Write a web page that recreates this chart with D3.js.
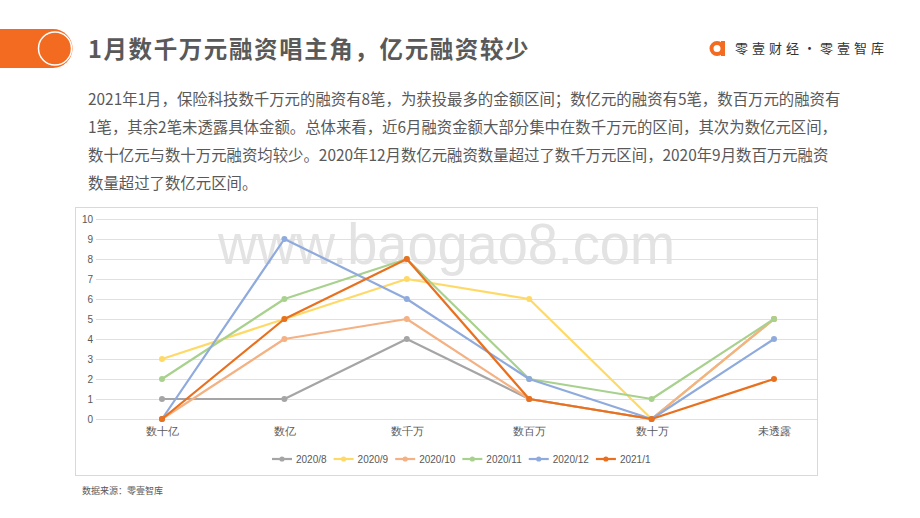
<!DOCTYPE html>
<html><head><meta charset="utf-8">
<script src="https://cdn.jsdelivr.net/npm/d3@7/dist/d3.min.js"></script>
<style>body{margin:0;background:#fff;}svg{display:block;font-family:"Noto Sans CJK SC","Noto Sans",sans-serif;}</style>
</head><body><svg id="c" width="920" height="518"></svg>
<script>
const categories = ["数十亿","数亿","数千万","数百万","数十万","未透露"];
const seriesNames = ["2020/8","2020/9","2020/10","2020/11","2020/12","2021/1"];
const s2020_8  = [1,1,4,1,0,5];
const s2020_9  = [3,5,7,6,0,5];
const s2020_10 = [0,4,5,1,0,5];
const s2020_11 = [2,6,8,2,1,5];
const s2020_12 = [0,9,6,2,0,4];
const s2021_1  = [0,5,8,1,0,2];
const yTicks = [0,1,2,3,4,5,6,7,8,9,10];
const colors = ["#A5A5A5","#FFD966","#F4B183","#A9D18E","#8FAADC","#E8701E"];
const series = [s2020_8,s2020_9,s2020_10,s2020_11,s2020_12,s2021_1];

const svg = d3.select("#c");
// header bar
svg.append("path").attr("d","M0,29 H53 A19.5,19.5 0 0 1 53,68 H0 Z").attr("fill","#F26B21");
svg.append("circle").attr("cx",55).attr("cy",48.5).attr("r",16.5).attr("fill","none").attr("stroke","#fff").attr("stroke-width",1.5);
svg.append("text").attr("x",88).attr("y",57.5).attr("font-size",23.5).attr("font-weight","bold").attr("fill","#595959").attr("letter-spacing",1.6).text("1月数千万元融资唱主角，亿元融资较少");
// logo
svg.append("circle").attr("cx",717).attr("cy",48.5).attr("r",5.5).attr("fill","none").attr("stroke","#F26B21").attr("stroke-width",4);
svg.append("rect").attr("x",721).attr("y",41).attr("width",4).attr("height",15).attr("fill","#F26B21");
svg.append("text").attr("x",735).attr("y",53).attr("font-size",13).attr("fill","#333").attr("letter-spacing",4).text("零壹财经·零壹智库");
// paragraph
const para = ["2021年1月，保险科技数千万元的融资有8笔，为获投最多的金额区间；数亿元的融资有5笔，数百万元的融资有",
"1笔，其余2笔未透露具体金额。总体来看，近6月融资金额大部分集中在数千万元的区间，其次为数亿元区间，",
"数十亿元与数十万元融资均较少。2020年12月数亿元融资数量超过了数千万元区间，2020年9月数百万元融资",
"数量超过了数亿元区间。"];
para.forEach((t,i)=>svg.append("text").attr("x",88).attr("y",105+i*28).attr("font-size",15.4).attr("fill","#595959").text(t));

// chart frame
svg.append("rect").attr("x",75.5).attr("y",207.5).attr("width",742).attr("height",268).attr("fill","#fff").attr("stroke","#d9d9d9");
// watermark
svg.append("text").attr("x",218).attr("y",264).attr("font-size",57).attr("fill","#e3e3e3")
  .attr("textLength",457).attr("lengthAdjust","spacingAndGlyphs")
  .attr("font-family","Liberation Sans, Arial, sans-serif").text("www.baogao8.com");

const x = d3.scalePoint().domain(categories).range([162,774]);
const y = d3.scaleLinear().domain([0,10]).range([419,219]);

const grid = svg.append("g");
yTicks.forEach(t=>{
  grid.append("line").attr("x1",96).attr("x2",817).attr("y1",y(t)+0.5).attr("y2",y(t)+0.5).attr("stroke","#e0e0e0").attr("stroke-width",1);
});
const yAxis = svg.append("g").attr("transform","translate(96,0)").call(d3.axisLeft(y).tickValues(yTicks).tickSize(0).tickPadding(3));
yAxis.select(".domain").remove();
yAxis.selectAll("text").attr("font-size",10).attr("fill","#595959").attr("font-family","Liberation Sans, Arial, sans-serif");
const xAxis = svg.append("g").attr("transform","translate(0,419)").call(d3.axisBottom(x).tickSize(0).tickPadding(8));
xAxis.select(".domain").remove();
xAxis.selectAll("text").attr("font-size",11).attr("fill","#595959");

const line = d3.line().x((d,i)=>x(categories[i])).y(d=>y(d));
series.forEach((s,k)=>{
  const g = svg.append("g");
  g.append("path").attr("d",line(s)).attr("fill","none").attr("stroke",colors[k]).attr("stroke-width",2.2).attr("stroke-linejoin","round");
  g.selectAll("circle").data(s).join("circle").attr("cx",(d,i)=>x(categories[i])).attr("cy",d=>y(d)).attr("r",3).attr("fill",colors[k]);
});

// legend
const lg = svg.append("g");
let lx = 272;
seriesNames.forEach((n,k)=>{
  const g = lg.append("g").attr("transform",`translate(${lx},459)`);
  g.append("line").attr("x1",0).attr("x2",20).attr("y1",0).attr("y2",0).attr("stroke",colors[k]).attr("stroke-width",2.2);
  g.append("circle").attr("cx",10).attr("cy",0).attr("r",2.6).attr("fill",colors[k]);
  const t = g.append("text").attr("x",24).attr("y",3.5).attr("font-size",10).attr("fill","#595959").attr("font-family","Liberation Sans, Arial, sans-serif").text(n);
  lx += 24 + t.node().getComputedTextLength() + 7;
});
// source
svg.append("text").attr("x",82).attr("y",494).attr("font-size",9).attr("fill","#595959").text("数据来源：零壹智库");
</script></body></html>
